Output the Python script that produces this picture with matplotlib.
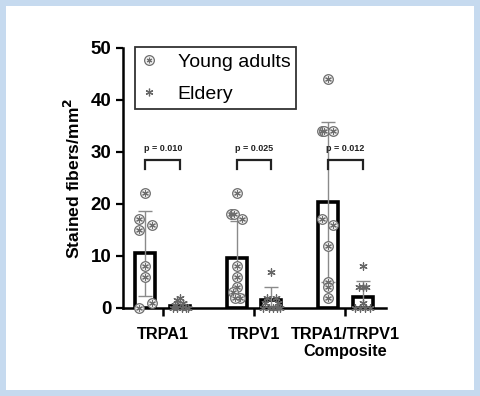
import matplotlib
matplotlib.use("Agg")
import matplotlib.pyplot as plt
from matplotlib.lines import Line2D
import numpy as np

plt.rcParams['font.family'] = ['Liberation Sans', 'DejaVu Sans']

categories = ["TRPA1", "TRPV1", "TRPA1/TRPV1\nComposite"]
series_names = ["Young adults", "Eldery"]
young_mean = [10.5, 9.7, 20.3]
young_sd = [8.1, 7.0, 15.4]
elder_mean = [0.4, 1.5, 2.2]
elder_sd = [0.8, 2.5, 3.0]
young_points = [
    [22, 17, 15, 16, 8, 6, 1, 0],
    [22, 18, 18, 17, 8, 6, 4, 3, 2, 2],
    [44, 34, 34, 34, 17, 16, 12, 5, 4, 2],
]
elder_points = [
    [2, 1.5, 1, 0.5, 0, 0, 0, 0, 0],
    [7, 2, 2, 1, 1, 0, 0, 0, 0, 0],
    [8, 4, 4, 4, 1, 0, 0, 0, 0],
]
p_values = ["p = 0.010", "p = 0.025", "p = 0.012"]
yticks = [0, 10, 20, 30, 40, 50]

# jitter offsets (layout only)
young_jit = [
    [0.0, -0.07, -0.07, 0.07, 0.0, 0.0, 0.07, -0.07],
    [0.0, -0.06, -0.03, 0.06, 0.0, 0.0, 0.0, -0.04, 0.04, -0.02],
    [0.0, -0.07, -0.04, 0.06, -0.07, 0.06, 0.0, 0.0, 0.0, 0.0],
]
elder_jit = [
    [0.0, -0.03, 0.03, -0.06, -0.08, -0.03, 0.02, 0.06, 0.09],
    [0.0, -0.05, 0.05, -0.07, 0.07, -0.09, -0.03, 0.02, 0.06, 0.09],
    [0.0, -0.04, 0.0, 0.04, 0.0, -0.08, -0.03, 0.03, 0.08],
]

fig = plt.figure(figsize=(4.8, 3.96), dpi=100, facecolor="white")
fig.patch.set_edgecolor("#c6daef")
fig.patch.set_linewidth(7.5)
ax = fig.add_axes([123/480, 88/396, 263/480, 260.3/396])
ax.set_facecolor("none")

x = np.arange(len(categories))
off = 0.19
w = 0.22
ax.bar(x - off, young_mean, width=w, facecolor="white", edgecolor="black",
       linewidth=2.6, zorder=2)
ax.bar(x + off, elder_mean, width=w, facecolor="white", edgecolor="black",
       linewidth=2.6, zorder=2)
ax.errorbar(x - off, young_mean, yerr=young_sd, fmt="none", ecolor="#8a8a8a",
            elinewidth=1.0, capsize=5, capthick=1.0, zorder=3)
ax.errorbar(x + off, elder_mean, yerr=elder_sd, fmt="none", ecolor="#8a8a8a",
            elinewidth=1.0, capsize=5, capthick=1.0, zorder=3)

for i in range(len(categories)):
    yx = x[i] - off + np.array(young_jit[i])
    ax.scatter(yx, young_points[i], s=48, marker="o", facecolor="#f2f2f2",
               edgecolor="#6e6e6e", linewidth=0.9, zorder=4, clip_on=False)
    ax.scatter(yx, young_points[i], s=18, marker=(6, 2, 0), color="#6e6e6e",
               linewidth=0.8, zorder=5, clip_on=False)
    ex = x[i] + off + np.array(elder_jit[i])
    ax.scatter(ex, elder_points[i], s=28, marker=(6, 2, 0), color="#666666",
               linewidth=0.9, zorder=4, clip_on=False)
    ax.plot([x[i] - off, x[i] - off, x[i] + off, x[i] + off],
            [26.7, 28.4, 28.4, 26.7], color="#222222", lw=1.6,
            solid_joinstyle="miter", zorder=3)
    ax.text(x[i], 30.7, p_values[i], ha="center", va="center", fontsize=6.5,
            fontweight="bold", color="#222222")

ax.set_xlim(-0.435, 2.446)
ax.set_ylim(0, 50)
ax.set_yticks(yticks)
ax.set_xticks(x)
ax.set_xticklabels(categories, fontsize=11.7, fontweight="bold", linespacing=1.15)
ax.tick_params(axis="y", labelsize=13.5, width=1.6, length=5, direction="out")
for lbl in ax.get_yticklabels():
    lbl.set_fontweight("bold")
ax.tick_params(axis="x", width=1.8, length=6, direction="out", pad=8)
for s in ["top", "right"]:
    ax.spines[s].set_visible(False)
for s in ["left", "bottom"]:
    ax.spines[s].set_linewidth(1.8)
ax.set_ylabel("Stained fibers/mm$^\\mathbf{2}$", fontsize=12.6,
              fontweight="bold", labelpad=5)

h1 = (Line2D([], [], marker="o", ls="none", markersize=7, markerfacecolor="#f2f2f2",
             markeredgecolor="#6e6e6e", markeredgewidth=0.9),
      Line2D([], [], marker=(6, 2, 0), ls="none", markersize=4, color="#6e6e6e",
             markeredgewidth=0.8))
h2 = Line2D([], [], marker=(6, 2, 0), ls="none", markersize=5.5, color="#666666",
            markeredgewidth=0.9)
leg = ax.legend([h1, h2], series_names, loc="upper left",
                bbox_to_anchor=(12/263, 1.0015), fontsize=14, frameon=True,
                fancybox=False, edgecolor="black", borderpad=0.3,
                handletextpad=1.05, handlelength=0.85, labelspacing=0.75,
                borderaxespad=0)
leg.get_frame().set_linewidth(1.3)

fig.savefig("out.png", dpi=100, facecolor=fig.get_facecolor(),
            edgecolor=fig.patch.get_edgecolor())
